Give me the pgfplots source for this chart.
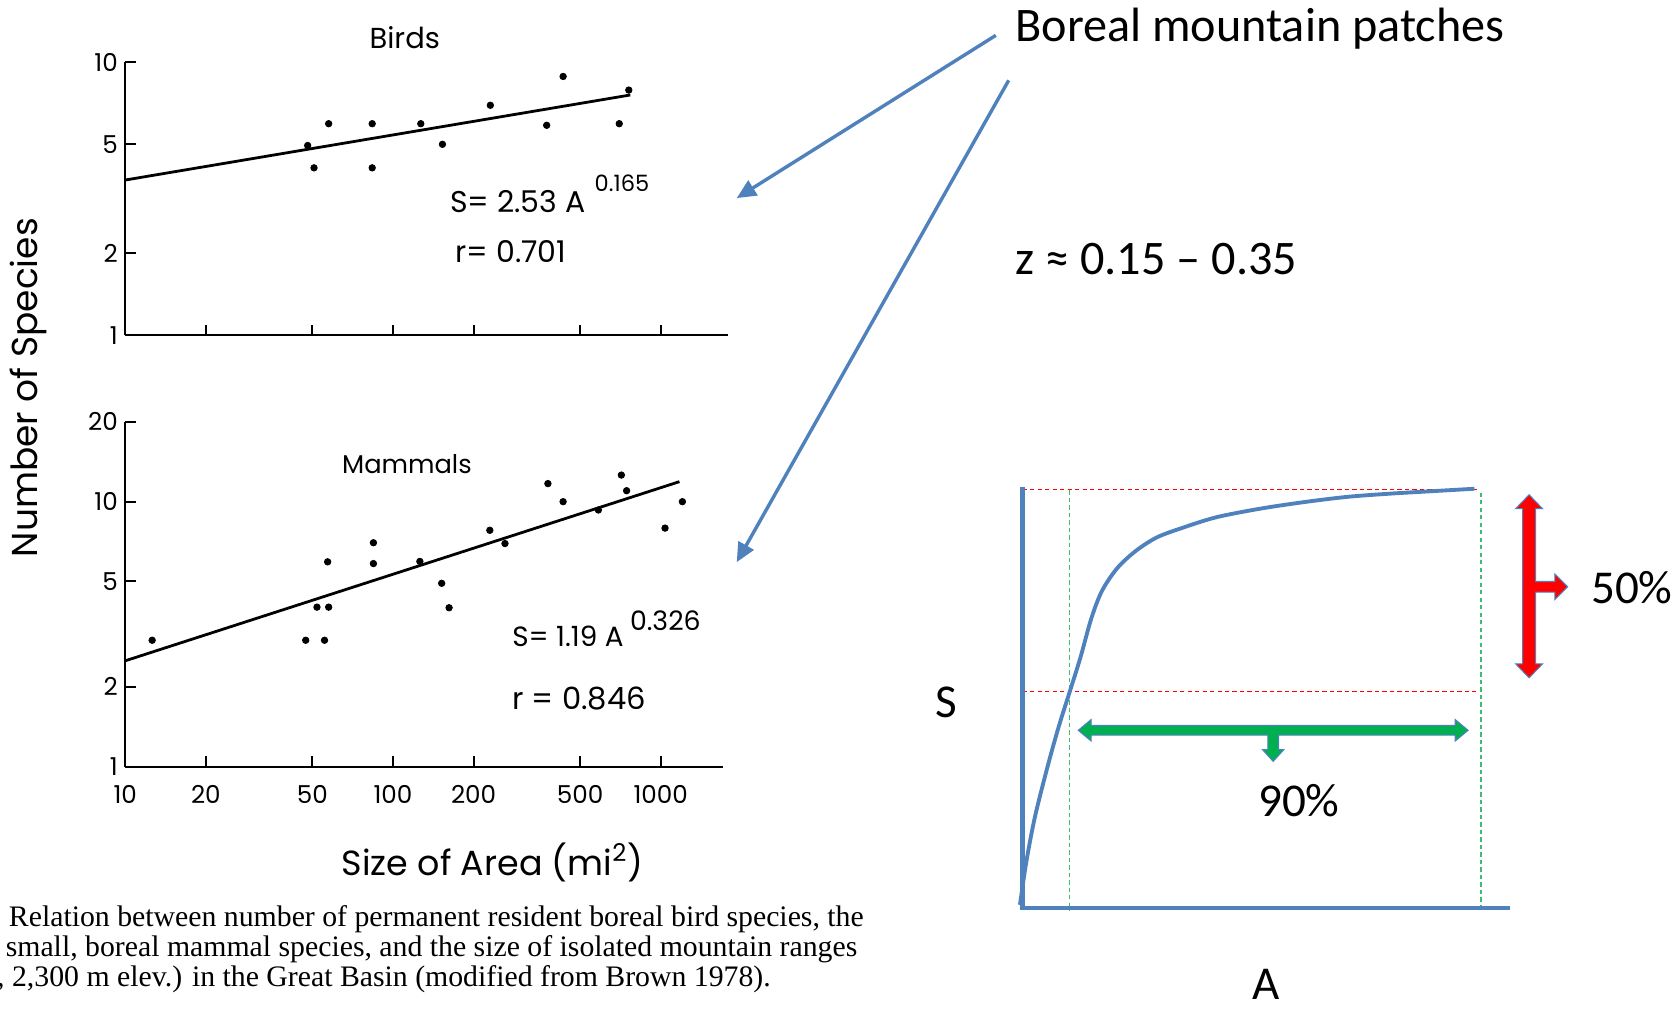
\documentclass[border=0pt]{standalone}
\usepackage{fontspec}
\usepackage{pgfplots}
\pgfplotsset{compat=1.18}
\usetikzlibrary{arrows.meta}
\setmainfont{Carlito}
\newfontfamily\lf{Poppins}
\newfontfamily\cf{Liberation Serif}
\definecolor{ob}{RGB}{79,129,189}
\definecolor{og}{RGB}{0,176,80}
\definecolor{gd}{RGB}{60,190,110}
\begin{document}
\begin{tikzpicture}
\path[use as bounding box] (0,0) rectangle (784pt,-472pt);

% ---------------- Birds ----------------
\begin{axis}[xmode=log, ymode=log, scale only axis,
  axis lines*=left, axis line style={line width=1pt, black},
  xminorticks=false, yminorticks=false,
  tick align=inside, major tick length=5pt,
  tick style={line width=0.9pt, black},
  ticklabel style={font=\lf\fontsize{11.5}{11.5}\selectfont},
  clip=false,
  at={(58.5pt,-156.5pt)}, anchor=south west,
  width=281.5pt, height=127.5pt,
  xmin=10, xmax=1786, ymin=1, ymax=10,
  xtick={20,50,100,200,500,1000}, xticklabels={},
  ytick={1,2,5,10}, yticklabels={1,2,5,10},
]
\addplot[only marks, mark=*, mark size=1.5pt, black] coordinates {
(48,4.95) (50.7,4.1) (57.5,5.95) (83.6,5.95) (83.6,4.1) (127,5.95)
(153,5.0) (231,6.95) (375,5.87) (432,8.86) (700,5.95) (760,7.9)};
\addplot[line width=1.3pt, black] coordinates {(10,3.70) (770,7.58)};
\end{axis}

% ---------------- Mammals ----------------
\begin{axis}[xmode=log, ymode=log, scale only axis,
  axis lines*=left, axis line style={line width=1pt, black},
  xminorticks=false, yminorticks=false,
  tick align=inside, major tick length=5pt,
  tick style={line width=0.9pt, black},
  ticklabel style={font=\lf\fontsize{11.5}{11.5}\selectfont},
  clip=false,
  at={(58.5pt,-358pt)}, anchor=south west,
  width=279pt, height=161pt,
  xmin=10, xmax=1706, ymin=1, ymax=20,
  xtick={10,20,50,100,200,500,1000}, xticklabels={10,20,50,100,200,500,1000},
  ytick={1,2,5,10,20}, yticklabels={1,2,5,10,20},
  xticklabel style={yshift=-5pt},
]
\addplot[only marks, mark=*, mark size=1.5pt, black] coordinates {
(12.6,3.0) (47.2,3.0) (55.5,3.0) (52,4.0) (57.5,4.0) (57,5.93) (84.5,7.0)
(84.5,5.84) (126,5.95) (152,4.92) (162,3.98) (230,7.8) (262,6.95) (379,11.7)
(432,10) (585,9.3) (713,12.6) (746,11) (1038,7.95) (1205,10)};
\addplot[line width=1.3pt, black] coordinates {(10,2.51) (1175,11.9)};
\end{axis}

% ---------------- Overlay (pixel coordinates) ----------------
\begin{axis}[at={(0pt,0pt)}, anchor=north west, scale only axis,
  width=784pt, height=472pt, xmin=0, xmax=1568, ymin=0, ymax=944,
  y dir=reverse, hide axis, clip=false]

% left figure texts
\node[font=\lf\fontsize{13.5}{13.5}\selectfont] at (axis cs:378,35) {Birds};
\node[font=\lf\fontsize{12}{12}\selectfont] at (axis cs:380,433) {Mammals};
\node[rotate=90, font=\lf\fontsize{16.8}{16.8}\selectfont] at (axis cs:27,362) {Number of Species};
\node[font=\lf\fontsize{16.3}{16.3}\selectfont] at (axis cs:460,805) {Size of Area (mi\textsuperscript{2})};
\node[anchor=west, inner sep=0, font=\lf\fontsize{14}{14}\selectfont] at (axis cs:420,188) {S= 2.53 A};
\node[anchor=west, inner sep=0, font=\lf\fontsize{10.5}{10.5}\selectfont] at (axis cs:555,171) {0.165};
\node[anchor=west, inner sep=0, font=\lf\fontsize{14}{14}\selectfont] at (axis cs:425,235) {r= 0.701};
\node[anchor=west, inner sep=0, font=\lf\fontsize{13}{13}\selectfont] at (axis cs:478,594) {S= 1.19 A};
\node[anchor=west, inner sep=0, font=\lf\fontsize{12.5}{12.5}\selectfont] at (axis cs:588,580) {0.326};
\node[anchor=west, inner sep=0, font=\lf\fontsize{14.3}{14.3}\selectfont] at (axis cs:478,652) {r = 0.846};

% caption
\node[anchor=base west, inner sep=0, font=\cf\fontsize{13.9}{13.9}\selectfont] at (axis cs:8,865) {Relation between number of permanent resident boreal bird species, the};
\node[anchor=base west, inner sep=0, font=\cf\fontsize{13.9}{13.9}\selectfont] at (axis cs:5,893) {small, boreal mammal species, and the size of isolated mountain ranges};
\node[anchor=base west, inner sep=0, font=\cf\fontsize{13.9}{13.9}\selectfont] at (axis cs:-3,921) {, 2,300 m elev.) in the Great Basin (modified from Brown 1978).};

% pointer arrows
\draw[ob, line width=1.6pt, -{Triangle[length=9pt,width=8pt]}] (axis cs:930,33) -- (axis cs:688,185);
\draw[ob, line width=1.6pt, -{Triangle[length=9pt,width=8pt]}] (axis cs:942,75) -- (axis cs:688,525);

% right texts
\node[anchor=west, inner sep=0, font=\fontsize{22.5}{22.5}\selectfont] at (axis cs:948,27) {Boreal mountain patches};
\node[anchor=west, inner sep=0, font=\fontsize{22.5}{22.5}\selectfont] at (axis cs:948,242) {z ≈ 0.15 – 0.35};
\node[font=\fontsize{22}{22}\selectfont] at (axis cs:884,656) {S};
\node[font=\fontsize{22}{22}\selectfont, inner sep=0] at (axis cs:1182,919) {A};
\node[font=\fontsize{22}{22}\selectfont] at (axis cs:1524,549) {50\%};
\node[font=\fontsize{22}{22}\selectfont] at (axis cs:1213,748) {90\%};

% dashed guides
\addplot[red, line width=0.6pt, dash pattern=on 2pt off 1.5pt] coordinates {(955,457) (1380,457)};
\addplot[red, line width=0.6pt, dash pattern=on 2pt off 1.5pt] coordinates {(955,646) (1378,646)};
\addplot[gd, line width=0.6pt, dash pattern=on 2pt off 1.5pt] coordinates {(999,458) (999,851)};
\addplot[gd, line width=0.6pt, dash pattern=on 2pt off 1.5pt] coordinates {(1383,460) (1383,848)};

% diagram axes
\addplot[ob, line width=2pt] coordinates {(955,455) (955,848) (1410,848)};

% curve
\addplot[ob, line width=1.8pt, smooth] coordinates {
(952.5,845) (958.6,804) (966.7,762) (978.8,714) (988.9,678) (999,646)
(1009,614) (1019,578) (1029,552) (1043,531) (1060,515) (1080,502)
(1104,493) (1136,483) (1177,475) (1217,469) (1258,464) (1298,461)
(1339,458.6) (1377,456.4)};

% red block arrow
\filldraw[fill=red, draw=ob, line width=0.5pt]
 (axis cs:1428,462) -- (axis cs:1440.5,475) -- (axis cs:1434,475) -- (axis cs:1434,543)
 -- (axis cs:1452,543) -- (axis cs:1452,536) -- (axis cs:1464,548) -- (axis cs:1452,560)
 -- (axis cs:1452,553) -- (axis cs:1434,553) -- (axis cs:1434,620) -- (axis cs:1440.5,620)
 -- (axis cs:1428,633) -- (axis cs:1415.5,620) -- (axis cs:1422,620) -- (axis cs:1422,475)
 -- (axis cs:1415.5,475) -- cycle;

% green block arrow
\filldraw[fill=og, draw=ob, line width=0.5pt]
 (axis cs:1007,682) -- (axis cs:1019,672) -- (axis cs:1019,677.5) -- (axis cs:1359,677.5)
 -- (axis cs:1359,672) -- (axis cs:1371,682) -- (axis cs:1359,692) -- (axis cs:1359,686.5)
 -- (axis cs:1194,686.5) -- (axis cs:1194,700) -- (axis cs:1199,700) -- (axis cs:1189,711)
 -- (axis cs:1179,700) -- (axis cs:1184,700) -- (axis cs:1184,686.5) -- (axis cs:1019,686.5)
 -- (axis cs:1019,692) -- cycle;
\end{axis}
\end{tikzpicture}
\end{document}
